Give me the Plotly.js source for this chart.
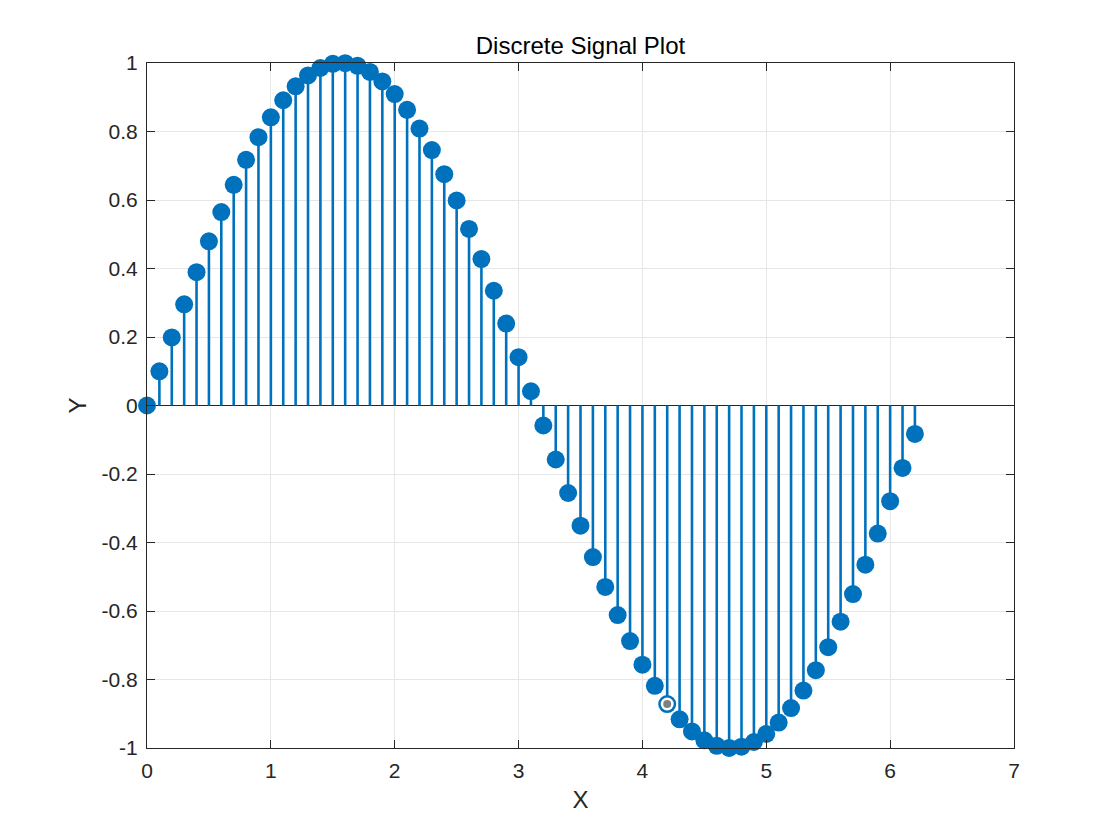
<!DOCTYPE html>
<html>
<head>
<meta charset="utf-8">
<script src="https://cdn.plot.ly/plotly-3.0.1.min.js"></script>
<style>html,body{margin:0;padding:0;background:#fff;}#chart{width:1120px;height:840px;}</style>
</head>
<body>
<div id="chart"></div>
<script>
const xValues = [0.0,0.1,0.2,0.3,0.4,0.5,0.6,0.7,0.8,0.9,1.0,1.1,1.2,1.3,1.4,1.5,1.6,1.7,1.8,1.9,2.0,2.1,2.2,2.3,2.4,2.5,2.6,2.7,2.8,2.9,3.0,3.1,3.2,3.3,3.4,3.5,3.6,3.7,3.8,3.9,4.0,4.1,4.2,4.3,4.4,4.5,4.6,4.7,4.8,4.9,5.0,5.1,5.2,5.3,5.4,5.5,5.6,5.7,5.8,5.9,6.0,6.1,6.2];
const yValues = [0,0.0998,0.1987,0.2955,0.3894,0.4794,0.5646,0.6442,0.7174,0.7833,0.8415,0.8912,0.9320,0.9636,0.9854,0.9975,0.9996,0.9917,0.9738,0.9463,0.9093,0.8632,0.8085,0.7457,0.6755,0.5985,0.5155,0.4274,0.3350,0.2392,0.1411,0.0416,-0.0584,-0.1577,-0.2555,-0.3508,-0.4425,-0.5298,-0.6119,-0.6878,-0.7568,-0.8183,-0.8716,-0.9162,-0.9516,-0.9775,-0.9937,-0.9999,-0.9962,-0.9825,-0.9589,-0.9258,-0.8835,-0.8323,-0.7728,-0.7055,-0.6313,-0.5507,-0.4646,-0.3739,-0.2794,-0.1822,-0.0831];
const highlightX = [4.2];
const highlightY = [-0.8716];
const xTickVals = [0,1,2,3,4,5,6,7];
const xTickText = ['0','1','2','3','4','5','6','7'];
const yTickVals = [-1,-0.8,-0.6,-0.4,-0.2,0,0.2,0.4,0.6,0.8,1];
const yTickText = ['-1','-0.8','-0.6','-0.4','-0.2','0','0.2','0.4','0.6','0.8','1'];

const blue = '#0072BD';
const font = 'Liberation Sans, Arial, Helvetica, sans-serif';
const stemX = [], stemY = [];
xValues.forEach((x, i) => { stemX.push(x, x, null); stemY.push(0, yValues[i], null); });

const traces = [
  {type:'scatter', mode:'lines', x:stemX, y:stemY, line:{color:blue, width:2.6}, hoverinfo:'skip', cliponaxis:false},
  {type:'scatter', mode:'markers', x:xValues, y:yValues, marker:{color:blue, size:18, line:{width:0}}, cliponaxis:false},
  {type:'scatter', mode:'markers', x:highlightX, y:highlightY, marker:{color:'#ffffff', size:13, line:{width:0}}, cliponaxis:false},
  {type:'scatter', mode:'markers', x:highlightX, y:highlightY, marker:{color:'#808080', size:8, line:{width:0}}, cliponaxis:false}
];

const axisCommon = {
  showline:true, linecolor:'#262626', linewidth:1, mirror:'ticks',
  ticks:'inside', ticklen:8, tickwidth:1, tickcolor:'#262626',
  showgrid:true, gridcolor:'#e6e6e6', gridwidth:1,
  tickfont:{family:font, size:21, color:'#262626'},
  fixedrange:true
};

const layout = {
  width:1120, height:840,
  margin:{l:147, r:106, t:63, b:92},
  paper_bgcolor:'#ffffff', plot_bgcolor:'#ffffff',
  showlegend:false,
  title:{text:'Discrete Signal Plot', font:{family:font, size:24, color:'#000000'}, x:0.5, xanchor:'center', y:1-46/840, yanchor:'middle', xref:'paper'},
  xaxis:Object.assign({}, axisCommon, {
    range:[0,7], tickvals:xTickVals, ticktext:xTickText, zeroline:false, ticklabelstandoff:4,
    title:{text:'X', font:{family:font, size:24, color:'#262626'}, standoff:9}
  }),
  yaxis:Object.assign({}, axisCommon, {
    range:[-1,1], tickvals:yTickVals, ticktext:yTickText, ticklabelstandoff:4,
    zeroline:true, zerolinecolor:'#262626', zerolinewidth:1,
    title:{text:'Y', font:{family:font, size:24, color:'#262626'}, standoff:8}
  })
};

Plotly.newPlot('chart', traces, layout, {displayModeBar:false, staticPlot:true});
</script>
</body>
</html>
